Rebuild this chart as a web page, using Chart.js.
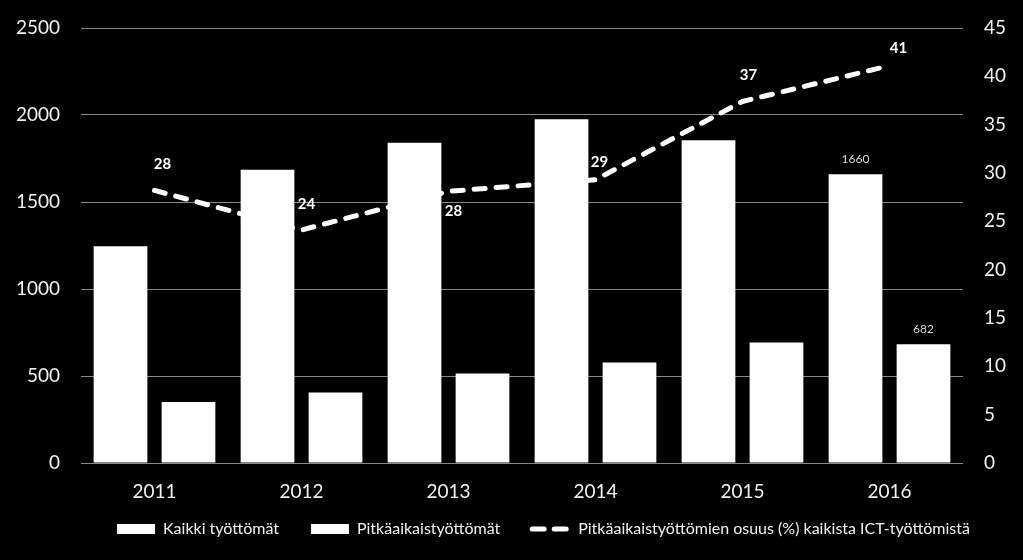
<!DOCTYPE html>
<html>
<head>
<meta charset="utf-8">
<script src="https://cdn.jsdelivr.net/npm/chart.js@4.4.0/dist/chart.umd.min.js"></script>
<style>
    html, body { margin: 0; padding: 0; background: #000; }
    #wrap { width: 1023px; height: 560px; }
</style>
</head>
<body>
<div id="wrap"><canvas id="ictChart"></canvas></div>
<script>
const years = ['2011', '2012', '2013', '2014', '2015', '2016'];
const allUnemployed = [1245, 1685, 1840, 1975, 1855, 1660];
const longTermUnemployed = [350, 405, 515, 578, 693, 682];
const longTermShare = [28.2, 24.1, 28.1, 29.3, 37.4, 41.1];
const leftTicks = [0, 500, 1000, 1500, 2000, 2500];
const rightTicks = [0, 5, 10, 15, 20, 25, 30, 35, 40, 45];

// where the share labels sit relative to their point (px)
const shareLabelOffsets = [[8, -26], [5, -26], [5, 20], [4, -18], [6, -26], [9, -18]];
const labeledYear = 5;

const fontFamily = "Lato, 'Open Sans', sans-serif";
const textColor = '#f2f2f2';

const valueLabels = {
    id: 'valueLabels',
    afterDatasetsDraw(chart) {
        const ctx = chart.ctx;
        ctx.save();
        ctx.textAlign = 'center';
        ctx.textBaseline = 'middle';

        ctx.font = 'bold 15px ' + fontFamily;
        ctx.fillStyle = '#ffffff';
        chart.getDatasetMeta(2).data.forEach((pt, i) => {
            const [dx, dy] = shareLabelOffsets[i];
            ctx.fillText(Math.round(longTermShare[i]), pt.x + dx, pt.y + dy);
        });

        ctx.font = '12px ' + fontFamily;
        ctx.fillStyle = '#d9d9d9';
        [0, 1].forEach(di => {
            const bar = chart.getDatasetMeta(di).data[labeledYear];
            ctx.fillText(chart.data.datasets[di].data[labeledYear], bar.x, bar.y - 15);
        });
        ctx.restore();
    }
};

// legend keeps its wide item spacing but takes less room vertically
const legendBox = {
    id: 'legendBox',
    beforeInit(chart) {
        const legend = chart.legend;
        const fit = legend.fit;
        legend.fit = function () {
            fit.call(this);
            this.height = 57;
        };
    },
    afterLayout(chart) {
        const lg = chart.legend;
        lg.left += 32;
        lg.right += 32;
        lg.top -= 14;
        lg.bottom -= 14;
    }
};

const legendLabels = (chart) => {
    const items = Chart.defaults.plugins.legend.labels.generateLabels(chart);
    items.forEach(item => {
        const ds = chart.data.datasets[item.datasetIndex];
        if (ds.type === 'line') {
            item.pointStyle = 'line';
            item.lineDash = [12, 10];
            item.lineCap = 'round';
            item.lineWidth = 5;
            item.strokeStyle = '#ffffff';
        } else {
            item.pointStyle = 'rect';
            item.lineWidth = 0;
        }
    });
    return items;
};

new Chart(document.getElementById('ictChart'), {
    data: {
        labels: years,
        datasets: [{
            type: 'bar',
            label: 'Kaikki työttömät',
            data: allUnemployed,
            backgroundColor: '#ffffff',
            categoryPercentage: 0.925,
            barPercentage: 0.79,
            yAxisID: 'y',
            order: 1
        }, {
            type: 'bar',
            label: 'Pitkäaikaistyöttömät',
            data: longTermUnemployed,
            backgroundColor: '#ffffff',
            categoryPercentage: 0.925,
            barPercentage: 0.79,
            yAxisID: 'y',
            order: 1
        }, {
            type: 'line',
            label: 'Pitkäaikaistyöttömien osuus (%) kaikista ICT-työttömistä',
            data: longTermShare,
            borderColor: '#ffffff',
            backgroundColor: '#ffffff',
            borderWidth: 5,
            borderDash: [11, 11],
            borderCapStyle: 'round',
            pointRadius: 0,
            tension: 0,
            yAxisID: 'y1',
            order: 0
        }]
    },
    options: {
        responsive: true,
        maintainAspectRatio: false,
        animation: false,
        devicePixelRatio: 1,
        layout: {
            padding: { top: 28, bottom: 0 }
        },
        scales: {
            x: {
                grid: { display: false },
                border: { display: false },
                ticks: {
                    color: textColor,
                    padding: 9,
                    font: { family: fontFamily, size: 19 }
                },
                afterFit: (scale) => { scale.height = 40; }
            },
            y: {
                position: 'left',
                min: leftTicks[0],
                max: leftTicks[leftTicks.length - 1],
                grid: { color: '#888888', tickColor: 'transparent', tickLength: 18 },
                border: { display: false },
                ticks: {
                    stepSize: leftTicks[1] - leftTicks[0],
                    color: textColor,
                    padding: 3,
                    font: { family: fontFamily, size: 19 },
                    callback: (v) => String(v)
                },
                afterFit: (scale) => { scale.width = 81; }
            },
            y1: {
                position: 'right',
                min: rightTicks[0],
                max: rightTicks[rightTicks.length - 1],
                grid: { display: false, tickLength: 18 },
                border: { display: false },
                ticks: {
                    stepSize: rightTicks[1] - rightTicks[0],
                    color: textColor,
                    padding: 3,
                    font: { family: fontFamily, size: 19 },
                    callback: (v) => String(v)
                },
                afterFit: (scale) => { scale.width = 60; }
            }
        },
        plugins: {
            legend: {
                position: 'bottom',
                labels: {
                    usePointStyle: true,
                    pointStyleWidth: 38,
                    boxHeight: 10,
                    padding: 32,
                    color: textColor,
                    font: { family: fontFamily, size: 16 },
                    generateLabels: legendLabels,
                    sort: (a, b) => a.datasetIndex - b.datasetIndex
                }
            },
            tooltip: { enabled: false }
        }
    },
    plugins: [valueLabels, legendBox]
});
</script>
</body>
</html>
